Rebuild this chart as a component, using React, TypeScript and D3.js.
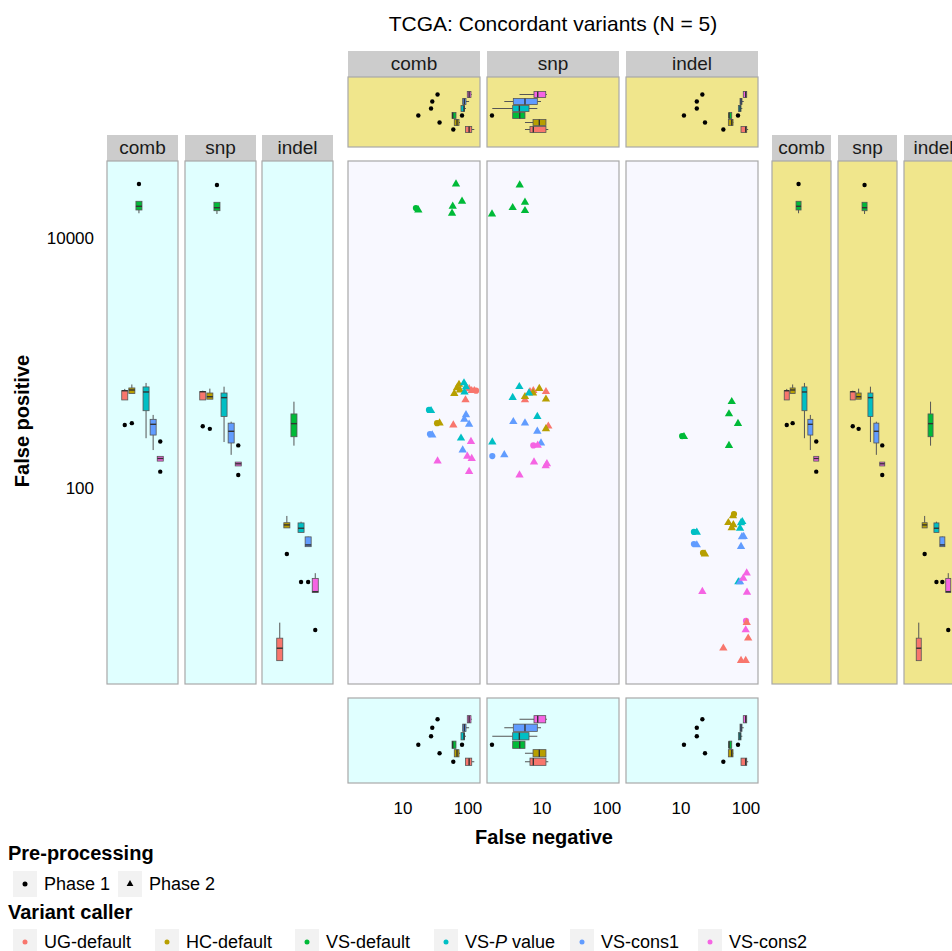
import * as d3 from 'd3';

const callers = ['UG-default', 'HC-default', 'VS-default', 'VS-P value', 'VS-cons1', 'VS-cons2'];
const callerColors = ['#F8766D', '#B79F00', '#00BA38', '#00BFC4', '#619CFF', '#F564E3'];
const variantTypes = ['comb', 'snp', 'indel'];
const phaseNames = ['Phase 1', 'Phase 2'];

// Phase 2 results per sample: [caller index, false negative, false positive]
const combPhase2: [number, number, number][] = [
  [0, 114, 600], [0, 125, 600], [0, 91.5, 506], [0, 59.4, 319], [0, 104, 620],
  [1, 72.7, 673], [1, 67.7, 631], [1, 75.3, 608], [1, 61.5, 570], [1, 36.5, 330],
  [2, 65.3, 27040], [2, 80.9, 19660], [2, 58.2, 17930], [2, 56.8, 15770], [2, 17.2, 16750],
  [3, 86.7, 692], [3, 93.1, 643], [3, 88.3, 586], [3, 27, 415], [3, 78, 250],
  [4, 93.1, 384], [4, 87.7, 354], [4, 104, 323], [4, 28.2, 265], [4, 82.8, 201],
  [5, 111, 235], [5, 97.5, 179], [5, 114, 172], [5, 34, 164], [5, 104, 135],
];
const snpPhase2: [number, number, number][] = [
  [0, 5.47, 506], [0, 6.53, 589], [0, 7.35, 600], [0, 11.5, 589], [0, 12.5, 312],
  [1, 9.09, 623], [1, 7.28, 575], [1, 5.47, 537], [1, 11.5, 513], [1, 11.5, 297],
  [2, 4.54, 26550], [2, 3.54, 17470], [2, 5.47, 19300], [2, 5.47, 16530], [2, 1.7, 15560],
  [3, 4.48, 646], [3, 6.31, 575], [3, 3.54, 528], [3, 8.47, 373], [3, 1.72, 233],
  [4, 3.62, 339], [4, 5.47, 330], [4, 8.47, 284], [4, 9.65, 229], [4, 2.63, 184],
  [5, 8.59, 219], [5, 7.53, 161], [5, 11.4, 150], [5, 11.9, 156], [5, 4.51, 127],
];
const indelPhase2: [number, number, number][] = [
  [0, 102.5, 8.36], [0, 108, 6.28], [0, 44.8, 5.22], [0, 83.8, 4.15], [0, 98.9, 4.15],
  [1, 63.1, 59.7], [1, 53.5, 52.7], [1, 63.8, 50.6], [1, 60.3, 47.9], [1, 23.4, 29.6],
  [2, 60.3, 490], [2, 54.7, 391], [2, 75.3, 327], [2, 11.1, 257], [2, 54.7, 218],
  [3, 87.7, 53.7], [3, 83.8, 52.5], [3, 80.9, 47.6], [3, 17.5, 44.1], [3, 76.3, 17.7],
  [4, 92.2, 40.9], [4, 86.7, 40.6], [4, 17.5, 35.0], [4, 83.8, 33.9], [4, 80.9, 17.7],
  [5, 102.5, 20.8], [5, 90.8, 18.9], [5, 21.3, 14.8], [5, 103.6, 14.6], [5, 98.9, 7.31],
];
// Phase 1 results (circles)
const combPhase1: [number, number, number][] = [
  [0, 133, 600], [1, 33.4, 330], [2, 15.8, 17380], [3, 25.1, 421], [4, 26, 270],
];
const snpPhase1: [number, number, number][] = [
  [4, 1.72, 180], [5, 7.35, 219],
];
const indelPhase1: [number, number, number][] = [
  [1, 65.3, 61.9], [1, 21.8, 30.2], [2, 10.4, 260], [3, 15.8, 44.5], [4, 15.8, 35.6], [5, 100, 8.63],
];

const fpTicks = [100, 10000];
const fnTicks = [10, 100];

const phase2Sets = [combPhase2, snpPhase2, indelPhase2];
const phase1Sets = [combPhase1, snpPhase1, indelPhase1];

// layout
const W = 952;
const H = 951;
const yTop = 161;
const yBot = 684;
const stripH = 26;
const centerX = [348, 487, 626];
const centerW = 132;
const leftX = [107, 185, 262];
const leftW = 71;
const rightX = [772, 838, 904];
const rightW = 59;
const topY = 77;
const topH = 70;
const botY = 698;
const botH = 85;

const FONT = '"Liberation Sans", Arial, sans-serif';
const BORDER = '#A8A8A8';

const fpScale = d3.scaleLog().domain([2.7, 41300]).range([yBot, yTop]);
const fnScale = d3.scaleLog().domain([1.425, 152.9]).range([0, centerW]);

const triangle = d3.symbol().type(d3.symbolTriangle).size(30)();

function boxStats(values: number[]) {
  const v = values.map(Math.log10).sort(d3.ascending);
  const q1 = d3.quantile(v, 0.25) as number;
  const med = d3.quantile(v, 0.5) as number;
  const q3 = d3.quantile(v, 0.75) as number;
  const iqr = q3 - q1;
  const inside = v.filter((d) => d >= q1 - 1.5 * iqr && d <= q3 + 1.5 * iqr);
  const out = v.filter((d) => d < q1 - 1.5 * iqr || d > q3 + 1.5 * iqr);
  const p = (d: number) => Math.pow(10, d);
  return {
    q1: p(q1), med: p(med), q3: p(q3),
    lo: p(d3.min(inside) as number), hi: p(d3.max(inside) as number),
    out: out.map(p),
  };
}

function Strip({ x, y, w, label }: { x: number; y: number; w: number; label: string }) {
  return (
    <g>
      <rect x={x} y={y} width={w} height={stripH} fill="#CCCCCC" />
      <text x={x + w / 2} y={y + 19} textAnchor="middle" fontSize={19} fill="#1A1A1A">{label}</text>
    </g>
  );
}

// vertical boxplots of false positives, one per caller
function FpBoxPanel({ x0, w, bg, data }: { x0: number; w: number; bg: string; data: [number, number, number][] }) {
  const xs = d3.scalePoint<string>().domain(callers).range([x0, x0 + w]).padding(2.5);
  const bw = xs.step() * 0.85;
  return (
    <g>
      <rect x={x0} y={yTop} width={w} height={yBot - yTop} fill={bg} />
      {callers.map((c, ci) => {
        const vals = data.filter((d) => d[0] === ci).map((d) => d[2]);
        const s = boxStats(vals);
        const cx = xs(c) as number;
        return (
          <g key={c}>
            <line x1={cx} x2={cx} y1={fpScale(s.hi)} y2={fpScale(s.q3)} stroke="#555" strokeWidth={1} />
            <line x1={cx} x2={cx} y1={fpScale(s.q1)} y2={fpScale(s.lo)} stroke="#555" strokeWidth={1} />
            <rect x={cx - bw / 2} y={fpScale(s.q3)} width={bw} height={Math.max(0.5, fpScale(s.q1) - fpScale(s.q3))}
              fill={callerColors[ci]} stroke="#555" strokeWidth={0.8} />
            <line x1={cx - bw / 2} x2={cx + bw / 2} y1={fpScale(s.med)} y2={fpScale(s.med)} stroke="#333" strokeWidth={1.4} />
            {s.out.map((o, k) => <circle key={k} cx={cx} cy={fpScale(o)} r={2.2} fill="#000" />)}
          </g>
        );
      })}
      <rect x={x0} y={yTop} width={w} height={yBot - yTop} fill="none" stroke={BORDER} strokeWidth={1.2} />
    </g>
  );
}

// horizontal boxplots of false negatives, one per caller
function FnBoxPanel({ x0, y0, h, bg, data }: { x0: number; y0: number; h: number; bg: string; data: [number, number, number][] }) {
  const ys = d3.scalePoint<string>().domain(callers).range([y0 + h, y0]).padding(2.5);
  const bh = ys.step() * 0.85;
  const fx = (v: number) => x0 + fnScale(v);
  return (
    <g>
      <rect x={x0} y={y0} width={centerW} height={h} fill={bg} />
      {callers.map((c, ci) => {
        const vals = data.filter((d) => d[0] === ci).map((d) => d[1]);
        const s = boxStats(vals);
        const cy = ys(c) as number;
        return (
          <g key={c}>
            <line y1={cy} y2={cy} x1={fx(s.lo)} x2={fx(s.q1)} stroke="#555" strokeWidth={1} />
            <line y1={cy} y2={cy} x1={fx(s.q3)} x2={fx(s.hi)} stroke="#555" strokeWidth={1} />
            <rect y={cy - bh / 2} x={fx(s.q1)} height={bh} width={Math.max(0.5, fx(s.q3) - fx(s.q1))}
              fill={callerColors[ci]} stroke="#555" strokeWidth={0.8} />
            <line y1={cy - bh / 2} y2={cy + bh / 2} x1={fx(s.med)} x2={fx(s.med)} stroke="#333" strokeWidth={1.4} />
            {s.out.map((o, k) => <circle key={k} cy={cy} cx={fx(o)} r={2.2} fill="#000" />)}
          </g>
        );
      })}
      <rect x={x0} y={y0} width={centerW} height={h} fill="none" stroke={BORDER} strokeWidth={1.2} />
    </g>
  );
}

function ScatterPanel({ x0, p1, p2 }: { x0: number; p1: [number, number, number][]; p2: [number, number, number][] }) {
  return (
    <g>
      <rect x={x0} y={yTop} width={centerW} height={yBot - yTop} fill="#F8F8FF" />
      {p1.map((d, i) => (
        <circle key={'c' + i} cx={x0 + fnScale(d[1])} cy={fpScale(d[2])} r={3.1} fill={callerColors[d[0]]} />
      ))}
      {p2.map((d, i) => (
        <path key={'t' + i} d={triangle as string}
          transform={`translate(${x0 + fnScale(d[1])},${fpScale(d[2])})`} fill={callerColors[d[0]]} />
      ))}
      <rect x={x0} y={yTop} width={centerW} height={yBot - yTop} fill="none" stroke={BORDER} strokeWidth={1.2} />
    </g>
  );
}

export default function App() {
  const legendKeyX = [13, 155, 295, 434, 570, 698];
  return (
    <svg width={W} height={H} style={{ position: 'absolute', left: 0, top: 0, background: '#fff' }}
      fontFamily={FONT}>
      <text x={553} y={31} textAnchor="middle" fontSize={21} fill="#000">TCGA: Concordant variants (N = 5)</text>

      {/* top marginal: false negative boxplots */}
      {variantTypes.map((t, i) => (
        <g key={'top' + t}>
          <Strip x={centerX[i]} y={topY - stripH} w={centerW} label={t} />
          <FnBoxPanel x0={centerX[i]} y0={topY} h={topH} bg="#F0E68C" data={phase2Sets[i]} />
        </g>
      ))}

      {/* left marginal: false positive boxplots */}
      {variantTypes.map((t, i) => (
        <g key={'left' + t}>
          <Strip x={leftX[i]} y={yTop - stripH} w={leftW} label={t} />
          <FpBoxPanel x0={leftX[i]} w={leftW} bg="#E0FFFF" data={phase2Sets[i]} />
        </g>
      ))}

      {/* main scatter */}
      {variantTypes.map((t, i) => (
        <ScatterPanel key={'main' + t} x0={centerX[i]} p1={phase1Sets[i]} p2={phase2Sets[i]} />
      ))}

      {/* right marginal */}
      {variantTypes.map((t, i) => (
        <g key={'right' + t}>
          <Strip x={rightX[i]} y={yTop - stripH} w={rightW} label={t} />
          <FpBoxPanel x0={rightX[i]} w={rightW} bg="#F0E68C" data={phase2Sets[i]} />
        </g>
      ))}

      {/* bottom marginal */}
      {variantTypes.map((t, i) => (
        <FnBoxPanel key={'bot' + t} x0={centerX[i]} y0={botY} h={botH} bg="#E0FFFF" data={phase2Sets[i]} />
      ))}

      {/* y axis */}
      {fpTicks.map((v) => (
        <text key={v} x={94} y={fpScale(v) + 6} textAnchor="end" fontSize={17} fill="#000">{v}</text>
      ))}
      <text transform="translate(29,421) rotate(-90)" textAnchor="middle" fontSize={20} fontWeight="bold" fill="#000">False positive</text>

      {/* x axis */}
      {centerX.map((x0, i) =>
        fnTicks.map((v) => (
          <text key={i + '-' + v} x={x0 + fnScale(v)} y={814} textAnchor="middle" fontSize={17} fill="#000">{v}</text>
        ))
      )}
      <text x={544} y={844} textAnchor="middle" fontSize={20} fontWeight="bold" fill="#000">False negative</text>

      {/* legends */}
      <text x={8} y={860} fontSize={20} fontWeight="bold" fill="#000">Pre-processing</text>
      {phaseNames.map((p, i) => {
        const kx = i === 0 ? 13 : 118;
        return (
          <g key={p}>
            <rect x={kx} y={871} width={24} height={26} fill="#F2F2F2" />
            {i === 0
              ? <circle cx={kx + 12} cy={884} r={2.5} fill="#000" />
              : <path d={d3.symbol().type(d3.symbolTriangle).size(20)() as string} transform={`translate(${kx + 12},884)`} fill="#000" />}
            <text x={kx + 31} y={890} fontSize={18} fill="#000">{p}</text>
          </g>
        );
      })}
      <text x={8} y={919} fontSize={20} fontWeight="bold" fill="#000">Variant caller</text>
      {callers.map((c, i) => (
        <g key={c}>
          <rect x={legendKeyX[i]} y={929} width={24} height={26} fill="#F2F2F2" />
          <circle cx={legendKeyX[i] + 12} cy={942} r={2.5} fill={callerColors[i]} />
          <text x={legendKeyX[i] + 31} y={948} fontSize={18} fill="#000">
            {c === 'VS-P value' ? (<><tspan>VS-</tspan><tspan fontStyle="italic">P</tspan><tspan> value</tspan></>) : c}
          </text>
        </g>
      ))}
    </svg>
  );
}
